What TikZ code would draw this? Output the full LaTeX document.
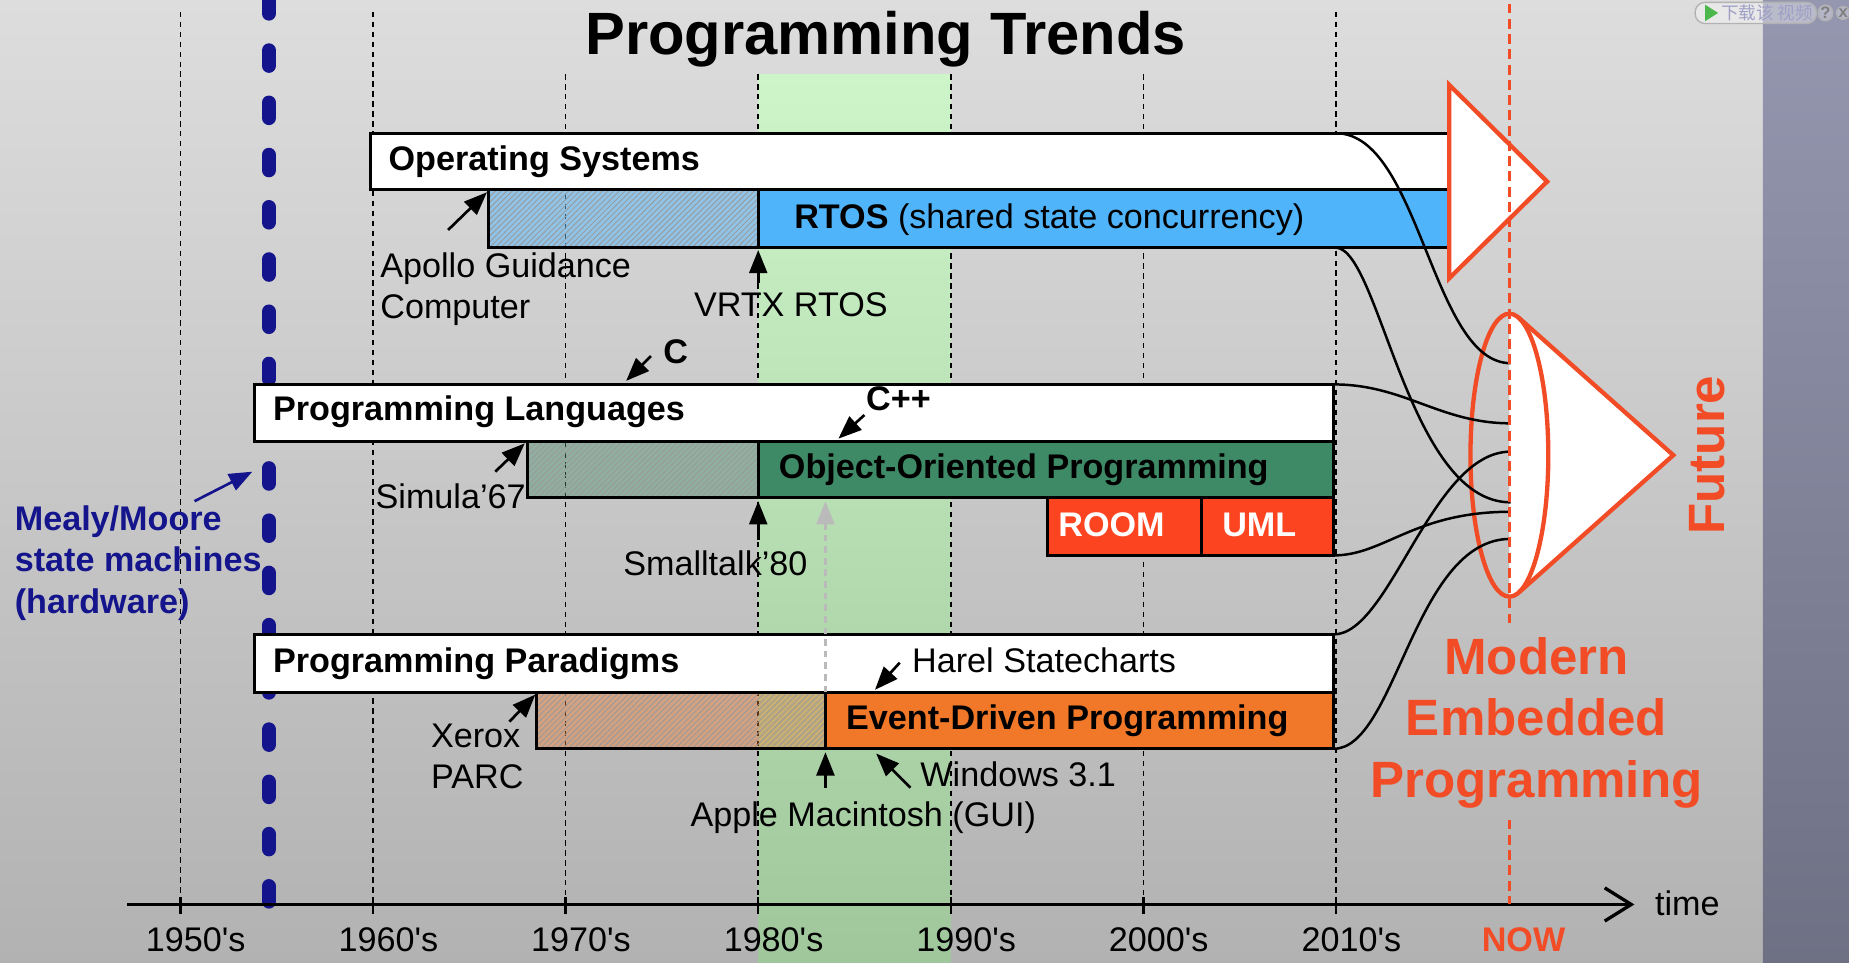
\documentclass[tikz,border=0pt]{standalone}
\usepackage{fontspec}
\setmainfont{Liberation Sans}
\newfontfamily\cjkfont{Noto Sans CJK SC}
\usetikzlibrary{arrows.meta,patterns.meta}

\definecolor{bgtop}{RGB}{221,221,221}
\definecolor{bgbot}{RGB}{178,178,178}
\definecolor{greentop}{RGB}{206,244,202}
\definecolor{greenbot}{RGB}{160,198,156}
\definecolor{striptop}{RGB}{149,151,176}
\definecolor{stripbot}{RGB}{110,112,132}
\definecolor{rtosblue}{RGB}{80,180,250}
\definecolor{oopgreen}{RGB}{62,138,103}
\definecolor{edporange}{RGB}{240,120,40}
\definecolor{roomred}{RGB}{252,68,32}
\definecolor{nowred}{RGB}{242,76,38}
\definecolor{mealyblue}{RGB}{20,20,140}

\newcommand\lblfont{\fontsize{10.3}{12.4}\selectfont}

\begin{document}
\begin{tikzpicture}[x=0.0125cm, y=-0.0125cm,
    bar/.style={draw=black, line width=0.9pt},
    hatch/.style={bar, pattern={Lines[angle=45,distance=1.2pt,line width=0.25pt]}, pattern color=black!40},
    lbl/.style={anchor=base west, inner sep=0pt, font=\lblfont},
    blbl/.style={lbl, font=\lblfont\bfseries},
    tip/.style={-{Triangle[length=7pt,width=5.4pt]}},
    ptr/.style={line width=0.8pt, tip},
    flow/.style={line width=0.75pt},
    grid/.style={line width=0.5pt, dash pattern=on 1.6pt off 1.4pt},
    redline/.style={draw=nowred, line width=1.3pt, line join=miter},
    redtxt/.style={text=nowred, font=\fontsize{15.4}{18.5}\selectfont\bfseries, inner sep=0pt}]
    \useasboundingbox (0,0) rectangle (1568,816);

    % background, 1980's band, side strip
    \shade[top color=bgtop, middle color=bgtop, bottom color=bgbot] (0,0) rectangle (1495,816);
    \shade[top color=greentop, middle color=greentop, bottom color=greenbot] (643,63) rectangle (806,816);
    \shade[top color=striptop, bottom color=stripbot] (1495,0) rectangle (1568,816);

    % player button
    \node[draw=gray!60, fill=white, fill opacity=0.35, text opacity=1, rounded corners=3pt,
        minimum width=103*0.0125cm, minimum height=18*0.0125cm, inner sep=0pt] (dlbtn) at (1489,11) {};
    \fill[green!60!black!70] (1446,4) -- (1457,11) -- (1446,18) -- cycle;
    \node[anchor=west, inner sep=0pt, text=gray!75!blue!60, font=\cjkfont\fontsize{5.3}{6}\selectfont]
        (dltxt) at (1459,11) {下载该 视频};
    \node[draw=gray!60, fill=white, fill opacity=0.3, text opacity=1, rounded corners=2pt, inner sep=0.6pt,
        text=gray, font=\fontsize{5}{5}\selectfont\bfseries] (helpbtn) at (1548,11) {?};
    \node[draw=gray!60, fill=white, fill opacity=0.3, text opacity=1, rounded corners=2pt, inner sep=0.6pt,
        text=gray, font=\fontsize{5}{5}\selectfont\bfseries] (closebtn) at (1563,11) {x};

    % decades
    \foreach \yr/\top [count=\i from 0] in {1950/10,1960/10,1970/63,1980/63,1990/63,2000/63,2010/10} {
        \draw[grid] (153+163.33*\i,\top) -- (153+163.33*\i,775);
        \draw[line width=0.7pt] (153+163.33*\i,761) -- (153+163.33*\i,775);
        \node[anchor=base, inner sep=0pt, font=\lblfont] (yr\yr) at (166+163.33*\i,807) {\yr\textquotesingle s};
    }

    % state machines
    \draw[mealyblue, line width=4.3pt, line cap=round, dash pattern=on 4.62pt off 11.13pt] (228,764.5) -- (228,-10);

    \node[anchor=base, inner sep=0pt, font=\fontsize{18}{21}\selectfont\bfseries] (title) at (751,46) {Programming Trends};

    % time axis
    \coordinate (t0) at (108,767);
    \coordinate (t1) at (1386,767);
    \draw[line width=1pt, -{Straight Barb[length=8pt,width=10pt,line width=1pt]}] (t0) -- (t1);
    \node[lbl] (time) at (1403,776) {time};
    \node[anchor=base, inner sep=0pt, text=nowred, font=\lblfont\bfseries] (now) at (1292,807) {NOW};

    % operating systems
    \draw[bar, fill=white] (314,113) rectangle (1229,161);
    \fill[rtosblue, opacity=0.5] (414,161) rectangle (643,210);
    \draw[hatch] (414,161) rectangle (643,210);
    \draw[bar, fill=rtosblue] (643,161) rectangle (1229,210);
    \node[blbl] (os) at (329,145) {Operating Systems};
    \node[lbl] (rtos) at (673,194) {\textbf{RTOS} (shared state concurrency)};
    \node[lbl] (apollo) at (322,235) {Apollo Guidance};
    \node[lbl] (computer) at (322,270) {Computer};
    \node[lbl] (vrtx) at (588,268) {VRTX RTOS};
    \coordinate (agc) at (413,163);
    \coordinate (agcTail) at (380,195);
    \coordinate (vrtxHead) at (643,212);
    \coordinate (vrtxTail) at (643,240);
    \draw[ptr] (agcTail) -- (agc);
    \draw[ptr] (vrtxTail) -- (vrtxHead);

    % programming languages
    \draw[bar, fill=white] (216,326) rectangle (1131,374);
    \fill[oopgreen, opacity=0.4] (447,374) rectangle (643,422);
    \draw[hatch] (447,374) rectangle (643,422);
    \draw[bar, fill=oopgreen] (643,374) rectangle (1131,422);
    \draw[bar, fill=roomred] (888,422) rectangle (1019,471);
    \draw[bar, fill=roomred] (1019,422) rectangle (1131,471);
    \node[blbl] (pl) at (231,357) {Programming Languages};
    \node[blbl] (oop) at (660,406) {Object-Oriented Programming};
    \node[blbl, text=white] (room) at (897,455) {ROOM};
    \node[blbl, text=white] (uml) at (1036,455) {UML};
    \node[blbl] (clang) at (562,308) {C};
    \node[blbl] (cpp) at (734,348) {C++};
    \node[lbl] (simula) at (318,431) {Simula’67};
    \node[lbl] (smalltalk) at (528,488) {Smalltalk’80};
    \coordinate (cHead) at (531,323);
    \coordinate (cTail) at (552,302);
    \coordinate (cppHead) at (711,372);
    \coordinate (cppTail) at (733,352);
    \coordinate (simHead) at (445,376);
    \coordinate (simTail) at (420,400);
    \coordinate (stHead) at (643,425);
    \coordinate (stTail) at (643,458);
    \draw[ptr] (cTail) -- (cHead);
    \draw[ptr] (cppTail) -- (cppHead);
    \draw[ptr] (simTail) -- (simHead);
    \draw[ptr] (stTail) -- (stHead);

    % programming paradigms
    \draw[bar, fill=white] (216,538) rectangle (1131,587);
    \fill[edporange, opacity=0.4] (455,587) rectangle (700,635);
    \draw[hatch] (455,587) rectangle (700,635);
    \draw[bar, fill=edporange] (700,587) rectangle (1131,635);
    \node[blbl] (pp) at (231,570) {Programming Paradigms};
    \node[blbl] (edp) at (717,619) {Event-Driven Programming};
    \node[lbl] (harel) at (773,570) {Harel Statecharts};
    \node[lbl] (xerox) at (365,634) {Xerox};
    \node[lbl] (parc) at (365,669) {PARC};
    \node[lbl] (windows) at (780,667) {Windows 3.1};
    \node[lbl] (apple) at (585,701) {Apple Macintosh (GUI)};
    \coordinate (guiHead) at (700,425);
    \coordinate (guiTail) at (700,587);
    \coordinate (harelHead) at (742,585);
    \coordinate (harelTail) at (763,562);
    \coordinate (xeroxHead) at (454,589);
    \coordinate (xeroxTail) at (432,612);
    \coordinate (macHead) at (700,638);
    \coordinate (macTail) at (700,668);
    \coordinate (winHead) at (743,639);
    \coordinate (winTail) at (772,668);
    \draw[line width=0.7pt, black!27, dash pattern=on 2pt off 1.5pt, tip] (guiTail) -- (guiHead);
    \draw[ptr] (harelTail) -- (harelHead);
    \draw[ptr] (xeroxTail) -- (xeroxHead);
    \draw[ptr] (macTail) -- (macHead);
    \draw[ptr] (winTail) -- (winHead);

    % Mealy/Moore
    \node[blbl, text=mealyblue] (mealy) at (12,450) {Mealy/Moore};
    \node[blbl, text=mealyblue] (statem) at (12,485) {state machines};
    \node[blbl, text=mealyblue] (hw) at (12,520) {(hardware)};
    \coordinate (mealyTail) at (165,425);
    \coordinate (mealyHead) at (214,400);
    \draw[mealyblue, line width=0.8pt, tip] (mealyTail) -- (mealyHead);

    % big arrow of operating systems
    \filldraw[redline, fill=white] (1229,72) -- (1312,154) -- (1229,236) -- cycle;

    % cone of the future
    \coordinate (cc) at (1280,386);
    \coordinate (apex) at (1419,386);
    \coordinate (tg1) at (1288,269.5);
    \coordinate (tg2) at (1288,502.5);
    \begin{scope}
        \clip (1280,250) rectangle (1330,520);
        \fill[white] (cc) ellipse [x radius=33, y radius=120];
    \end{scope}
    \fill[white] (tg1) -- (apex) -- (tg2) -- cycle;
    \draw[redline] (cc) ellipse [x radius=33, y radius=120];
    \draw[redline] (tg1) -- (apex) -- (tg2);

    % into the future
    \foreach \n/\y in {f1/308,f2/359,f3/383,f4/426,f5/434,f6/457} {\coordinate (\n) at (1281,\y);}
    \coordinate (osEnd) at (1133,113);
    \coordinate (rtosEnd) at (1133,210);
    \coordinate (plEnd) at (1131,326);
    \coordinate (umlEnd) at (1131,471);
    \coordinate (ppEnd) at (1131,538);
    \coordinate (edpEnd) at (1131,635);
    \draw[flow] (osEnd) .. controls +(71,0) and +(-67,0) .. (f1);
    \draw[flow] (rtosEnd) .. controls +(37,2) and +(-87,0) .. (f4);
    \draw[flow] (plEnd) .. controls +(60,0) and +(-60,0) .. (f2);
    \draw[flow] (umlEnd) .. controls +(43,0) and +(-82,0) .. (f5);
    \draw[flow] (ppEnd) .. controls +(48,0) and +(-67,0) .. (f3);
    \draw[flow] (edpEnd) .. controls +(53,0) and +(-82,0) .. (f6);

    % now
    \draw[nowred, line width=1.1pt, dash pattern=on 3pt off 1.6pt] (1280,3) -- (1280,528);
    \draw[nowred, line width=1.1pt, dash pattern=on 3pt off 1.6pt] (1280,695) -- (1280,767);

    \node[redtxt, anchor=base] (modern) at (1303,572) {Modern};
    \node[redtxt, anchor=base] (embedded) at (1303,624) {Embedded};
    \node[redtxt, anchor=base] (progr) at (1303,676) {Programming};
    \node[redtxt, rotate=90] (future) at (1448,386) {Future};
\end{tikzpicture}
\end{document}
